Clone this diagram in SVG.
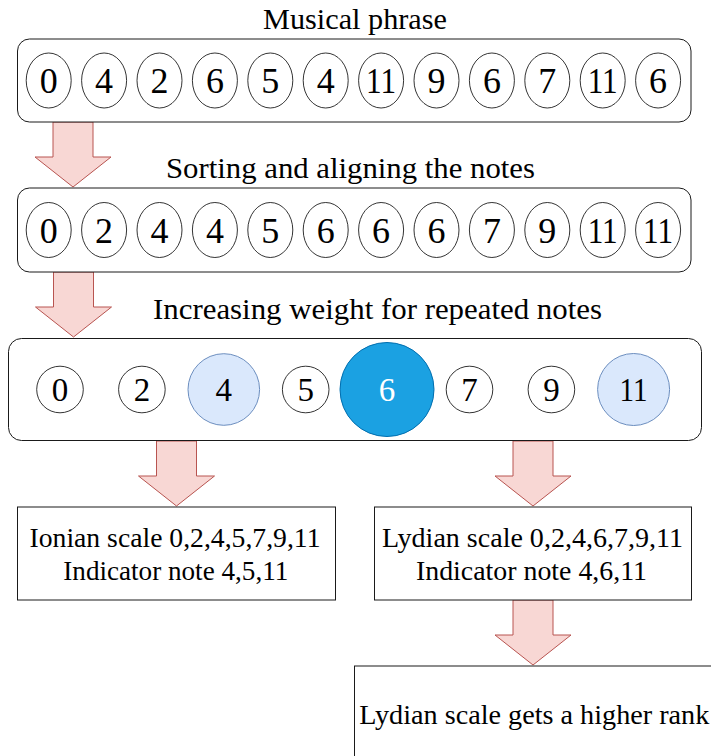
<svg xmlns="http://www.w3.org/2000/svg" width="711" height="756" viewBox="0 0 711 756">
  <style>
    text { font-family: "Liberation Serif", "Times New Roman", serif; fill: #000; text-anchor: middle; }
    .title { font-size: 29px; }
    .label { font-size: 27.5px; }
    .num { font-size: 36px; }
    .num3 { font-size: 33px; }
    .panel { fill: #fff; stroke: #1a1a1a; stroke-width: 1; }
    .note { fill: #fff; stroke: #000; stroke-width: 0.8; }
    .weak { fill: #dae8fc; stroke: #6c8ebf; stroke-width: 1; }
    .strong { fill: #1ba1e2; stroke: #006eaf; stroke-width: 1; }
    .arrow { fill: #f8d7d4; stroke: #b85450; stroke-width: 1; }
    .light { fill: #fff; }
  </style>

  <!-- block arrows between stages -->
  <g id="connectors">
    <path class="arrow" d="M53 122 V157 H35 L73 187 L111 157 H93 V122 Z"/>
    <path class="arrow" d="M53.5 272 V307 H35.5 L73.5 337 L111.5 307 H93.5 V272 Z"/>
    <path class="arrow" d="M156.5 441 V476 H138.5 L176.5 506 L214.5 476 H196.5 V441 Z"/>
    <path class="arrow" d="M513 441 V476 H495 L533 506 L571 476 H553 V441 Z"/>
    <path class="arrow" d="M513 600 V635 H495 L533 665 L571 635 H553 V600 Z"/>
  </g>

  <!-- stage 1: the phrase as played -->
  <g id="phrase">
    <text class="title" x="355" y="29" textLength="184" lengthAdjust="spacingAndGlyphs">Musical phrase</text>
    <rect class="panel" x="17.5" y="39" width="673.5" height="83" rx="12"/>
    <g class="num">
      <ellipse class="note" cx="48.7" cy="80.5" rx="22.5" ry="27.5"/><text x="48.7" y="93">0</text>
      <ellipse class="note" cx="104.1" cy="80.5" rx="22.5" ry="27.5"/><text x="104.1" y="93">4</text>
      <ellipse class="note" cx="159.5" cy="80.5" rx="22.5" ry="27.5"/><text x="159.5" y="93">2</text>
      <ellipse class="note" cx="214.9" cy="80.5" rx="22.5" ry="27.5"/><text x="214.9" y="93">6</text>
      <ellipse class="note" cx="270.3" cy="80.5" rx="22.5" ry="27.5"/><text x="270.3" y="93">5</text>
      <ellipse class="note" cx="325.7" cy="80.5" rx="22.5" ry="27.5"/><text x="325.7" y="93">4</text>
      <ellipse class="note" cx="381.1" cy="80.5" rx="22.5" ry="27.5"/><text x="381.1" y="93" textLength="30" lengthAdjust="spacingAndGlyphs">11</text>
      <ellipse class="note" cx="436.5" cy="80.5" rx="22.5" ry="27.5"/><text x="436.5" y="93">9</text>
      <ellipse class="note" cx="491.9" cy="80.5" rx="22.5" ry="27.5"/><text x="491.9" y="93">6</text>
      <ellipse class="note" cx="547.3" cy="80.5" rx="22.5" ry="27.5"/><text x="547.3" y="93">7</text>
      <ellipse class="note" cx="602.7" cy="80.5" rx="22.5" ry="27.5"/><text x="602.7" y="93" textLength="30" lengthAdjust="spacingAndGlyphs">11</text>
      <ellipse class="note" cx="658.1" cy="80.5" rx="22.5" ry="27.5"/><text x="658.1" y="93">6</text>
    </g>
  </g>

  <!-- stage 2: sorted notes -->
  <g id="sorted">
    <text class="title" x="350.5" y="178" textLength="369" lengthAdjust="spacingAndGlyphs">Sorting and aligning the notes</text>
    <rect class="panel" x="17.5" y="188" width="673.5" height="84" rx="12"/>
    <g class="num">
      <ellipse class="note" cx="48.7" cy="230" rx="22.5" ry="27.5"/><text x="48.7" y="242.5">0</text>
      <ellipse class="note" cx="104.1" cy="230" rx="22.5" ry="27.5"/><text x="104.1" y="242.5">2</text>
      <ellipse class="note" cx="159.5" cy="230" rx="22.5" ry="27.5"/><text x="159.5" y="242.5">4</text>
      <ellipse class="note" cx="214.9" cy="230" rx="22.5" ry="27.5"/><text x="214.9" y="242.5">4</text>
      <ellipse class="note" cx="270.3" cy="230" rx="22.5" ry="27.5"/><text x="270.3" y="242.5">5</text>
      <ellipse class="note" cx="325.7" cy="230" rx="22.5" ry="27.5"/><text x="325.7" y="242.5">6</text>
      <ellipse class="note" cx="381.1" cy="230" rx="22.5" ry="27.5"/><text x="381.1" y="242.5">6</text>
      <ellipse class="note" cx="436.5" cy="230" rx="22.5" ry="27.5"/><text x="436.5" y="242.5">6</text>
      <ellipse class="note" cx="491.9" cy="230" rx="22.5" ry="27.5"/><text x="491.9" y="242.5">7</text>
      <ellipse class="note" cx="547.3" cy="230" rx="22.5" ry="27.5"/><text x="547.3" y="242.5">9</text>
      <ellipse class="note" cx="602.7" cy="230" rx="22.5" ry="27.5"/><text x="602.7" y="242.5" textLength="30" lengthAdjust="spacingAndGlyphs">11</text>
      <ellipse class="note" cx="658.1" cy="230" rx="22.5" ry="27.5"/><text x="658.1" y="242.5" textLength="30" lengthAdjust="spacingAndGlyphs">11</text>
    </g>
  </g>

  <!-- stage 3: weighted pitch classes -->
  <g id="weighted">
    <text class="title" x="377.5" y="319" textLength="449" lengthAdjust="spacingAndGlyphs">Increasing weight for repeated notes</text>
    <rect class="panel" x="8.5" y="338.5" width="693" height="102" rx="13"/>
    <g class="num3">
      <circle class="note" cx="60" cy="389.5" r="23.3"/><text x="60" y="401">0</text>
      <circle class="note" cx="141.9" cy="389.5" r="23.3"/><text x="141.9" y="401">2</text>
      <circle class="weak" cx="223.8" cy="389.5" r="35.8"/><text x="223.8" y="401">4</text>
      <circle class="note" cx="305.7" cy="389.5" r="23.3"/><text x="305.7" y="401">5</text>
      <circle class="strong" cx="387" cy="389.5" r="47"/><text class="light" x="387" y="401">6</text>
      <circle class="note" cx="469.5" cy="389.5" r="23.3"/><text x="469.5" y="401">7</text>
      <circle class="note" cx="551.4" cy="389.5" r="23.3"/><text x="551.4" y="401">9</text>
      <circle class="weak" cx="633.6" cy="389.5" r="36"/><text x="633.6" y="401" textLength="28" lengthAdjust="spacingAndGlyphs">11</text>
    </g>
  </g>

  <!-- candidate scales -->
  <g id="ionian">
    <rect class="panel" x="17.5" y="507" width="318" height="93"/>
    <text class="label" x="175" y="546.5" textLength="291" lengthAdjust="spacingAndGlyphs">Ionian scale 0,2,4,5,7,9,11</text>
    <text class="label" x="175.8" y="580" textLength="225" lengthAdjust="spacingAndGlyphs">Indicator note 4,5,11</text>
  </g>

  <g id="lydian">
    <rect class="panel" x="374.5" y="507" width="317" height="93"/>
    <text class="label" x="532.5" y="546.5" textLength="301" lengthAdjust="spacingAndGlyphs">Lydian scale 0,2,4,6,7,9,11</text>
    <text class="label" x="531.5" y="580" textLength="231" lengthAdjust="spacingAndGlyphs">Indicator note 4,6,11</text>
  </g>

  <!-- ranking result -->
  <g id="result">
    <rect class="panel" x="354.5" y="666" width="358" height="100"/>
    <text x="534.3" y="723.5" font-size="28" textLength="350" lengthAdjust="spacingAndGlyphs">Lydian scale gets a higher rank</text>
  </g>
</svg>
